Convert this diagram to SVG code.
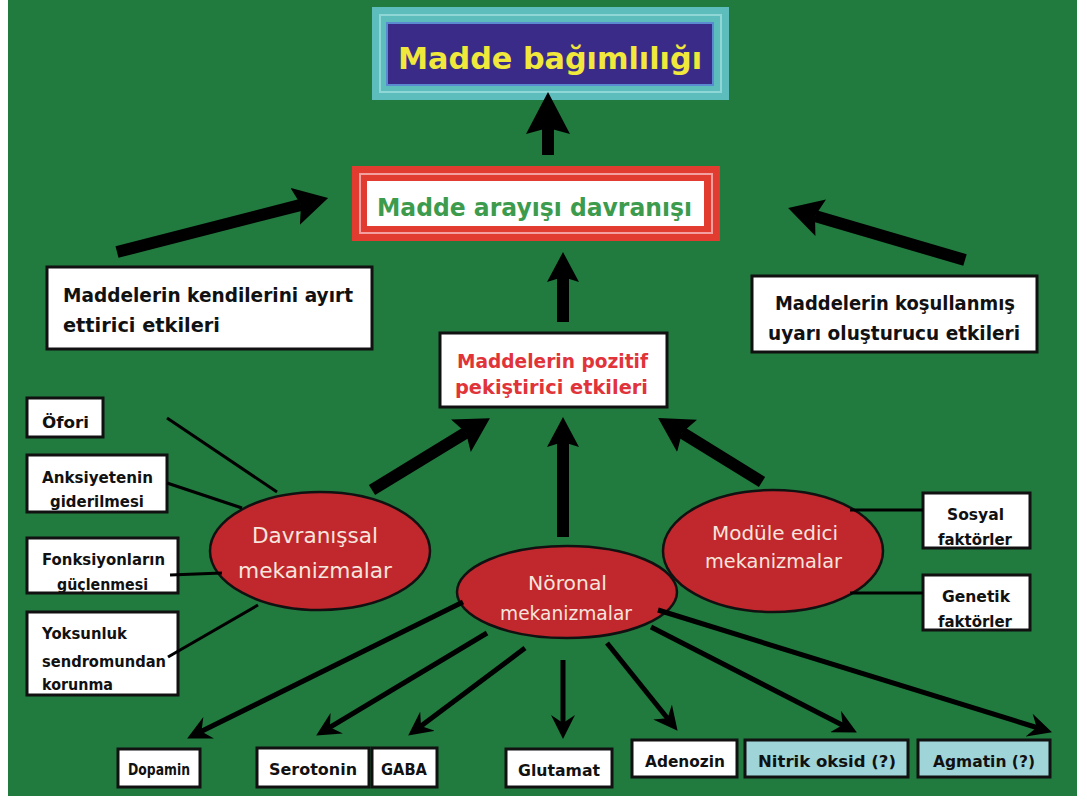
<svg xmlns="http://www.w3.org/2000/svg" width="1087" height="800" viewBox="0 0 1087 800">
<defs>
<style>
.bg{fill:#217a3e}
.box{fill:#ffffff;stroke:#111;stroke-width:3}
.cyan{fill:#9fd5d8;stroke:#111;stroke-width:3}
.ell{fill:#c0282d;stroke:#111;stroke-width:2.5}
.t{font-family:"DejaVu Sans",sans-serif;font-weight:bold;fill:#111}
.et{font-family:"DejaVu Sans",sans-serif;fill:#f7e4dc}
.big{stroke:#000;stroke-width:12;fill:none}
.thin{stroke:#000;stroke-width:5;fill:none}
.line{stroke:#000;stroke-width:3;fill:none}
</style>
<marker id="headL" viewBox="0 0 42 44" markerWidth="42" markerHeight="44" refX="6" refY="22" orient="auto" markerUnits="userSpaceOnUse">
<path d="M0,0 L42,22 L0,44 L6,22 Z" fill="#000"/>
</marker>
<marker id="headM" viewBox="0 0 30 32" markerWidth="30" markerHeight="32" refX="5" refY="16" orient="auto" markerUnits="userSpaceOnUse">
<path d="M0,0 L30,16 L0,32 L5,16 Z" fill="#000"/>
</marker>
<marker id="headD" viewBox="0 0 34 38" markerWidth="34" markerHeight="38" refX="6" refY="19" orient="auto" markerUnits="userSpaceOnUse">
<path d="M0,0 L34,19 L0,38 L6,19 Z" fill="#000"/>
</marker>
<marker id="headS" viewBox="0 0 24 24" markerWidth="24" markerHeight="24" refX="13" refY="12" orient="auto" markerUnits="userSpaceOnUse">
<path d="M0,0 L24,12 L0,24 L8,12 Z" fill="#000"/>
</marker>
</defs>

<rect x="0" y="0" width="1087" height="800" fill="#ffffff"/>
<rect class="bg" x="8" y="0" width="1069" height="796"/>

<g id="madde-bagimliligi">
<rect x="372" y="7" width="357" height="93" fill="#5dbdbd"/>
<rect x="380" y="15" width="341" height="77" fill="none" stroke="#8fd6d6" stroke-width="2"/>
<rect x="387" y="23" width="326" height="62" fill="#3b2b88" stroke="#5a8ad0" stroke-width="2"/>
<text x="398" y="69" font-size="31" textLength="304" lengthAdjust="spacingAndGlyphs" style="font-family:'DejaVu Sans',sans-serif;font-weight:bold;fill:#f0e83a">Madde bağımlılığı</text>
</g>

<g id="madde-arayisi">
<rect x="352" y="166" width="368" height="75" fill="#e23b2f"/>
<rect x="360" y="174" width="352" height="59" fill="none" stroke="#f4a0a0" stroke-width="2"/>
<rect x="366" y="180" width="339" height="47" fill="#ffffff" stroke="#e23b2f" stroke-width="2"/>
<text x="377" y="216" font-size="25" textLength="315" lengthAdjust="spacingAndGlyphs" style="font-family:'DejaVu Sans',sans-serif;font-weight:bold;fill:#3d9b4e">Madde arayışı davranışı</text>
</g>

<g id="ayirt-ettirici">
<rect class="box" x="47" y="267" width="325" height="82"/>
<text class="t" x="63" y="302" font-size="19" textLength="290" lengthAdjust="spacingAndGlyphs">Maddelerin kendilerini ayırt</text>
<text class="t" x="63" y="332" font-size="19" textLength="157" lengthAdjust="spacingAndGlyphs">ettirici etkileri</text>
</g>

<g id="kosullanmis">
<rect class="box" x="752" y="276" width="285" height="76"/>
<text class="t" x="775" y="310" font-size="19" textLength="240" lengthAdjust="spacingAndGlyphs">Maddelerin koşullanmış</text>
<text class="t" x="768" y="340" font-size="19" textLength="252" lengthAdjust="spacingAndGlyphs">uyarı oluşturucu etkileri</text>
</g>

<g id="pozitif">
<rect class="box" x="440" y="333" width="227" height="74"/>
<text x="457" y="368" font-size="19" textLength="191" lengthAdjust="spacingAndGlyphs" style="font-family:'DejaVu Sans',sans-serif;font-weight:bold;fill:#e0343a">Maddelerin pozitif</text>
<text x="455" y="394" font-size="19" textLength="193" lengthAdjust="spacingAndGlyphs" style="font-family:'DejaVu Sans',sans-serif;font-weight:bold;fill:#e0343a">pekiştirici etkileri</text>
</g>

<g id="davranissal">
<ellipse class="ell" cx="320" cy="551" rx="110" ry="59"/>
<text class="et" x="252" y="543" font-size="22" textLength="126" lengthAdjust="spacingAndGlyphs">Davranışsal</text>
<text class="et" x="238" y="578" font-size="22" textLength="154" lengthAdjust="spacingAndGlyphs">mekanizmalar</text>
</g>

<g id="noronal">
<ellipse class="ell" cx="567" cy="592" rx="110" ry="46"/>
<text class="et" x="528" y="590" font-size="19" textLength="79" lengthAdjust="spacingAndGlyphs">Nöronal</text>
<text class="et" x="500" y="620" font-size="19" textLength="132" lengthAdjust="spacingAndGlyphs">mekanizmalar</text>
</g>

<g id="module">
<ellipse class="ell" cx="773" cy="551" rx="110" ry="61"/>
<text class="et" x="712" y="540" font-size="19" textLength="126" lengthAdjust="spacingAndGlyphs">Modüle edici</text>
<text class="et" x="705" y="568" font-size="19" textLength="137" lengthAdjust="spacingAndGlyphs">mekanizmalar</text>
</g>

<g id="ofori">
<rect class="box" x="27" y="398" width="76" height="39"/>
<text class="t" x="42" y="428" font-size="16" textLength="47" lengthAdjust="spacingAndGlyphs">Öfori</text>
</g>
<g id="anksiyete">
<rect class="box" x="27" y="455" width="140" height="57"/>
<text class="t" x="42" y="483" font-size="16" textLength="111" lengthAdjust="spacingAndGlyphs">Anksiyetenin</text>
<text class="t" x="50" y="507" font-size="16" textLength="94" lengthAdjust="spacingAndGlyphs">giderilmesi</text>
</g>
<g id="fonksiyon">
<rect class="box" x="27" y="538" width="151" height="55"/>
<text class="t" x="42" y="565" font-size="16" textLength="123" lengthAdjust="spacingAndGlyphs">Fonksiyonların</text>
<text class="t" x="57" y="590" font-size="16" textLength="91" lengthAdjust="spacingAndGlyphs">güçlenmesi</text>
</g>
<g id="yoksunluk">
<rect class="box" x="27" y="612" width="151" height="83"/>
<text class="t" x="42" y="639" font-size="16" textLength="85" lengthAdjust="spacingAndGlyphs">Yoksunluk</text>
<text class="t" x="42" y="667" font-size="16" textLength="124" lengthAdjust="spacingAndGlyphs">sendromundan</text>
<text class="t" x="42" y="690" font-size="16" textLength="71" lengthAdjust="spacingAndGlyphs">korunma</text>
</g>

<g id="sosyal">
<rect class="box" x="923" y="493" width="107" height="55"/>
<text class="t" x="947" y="520" font-size="16" textLength="57" lengthAdjust="spacingAndGlyphs">Sosyal</text>
<text class="t" x="938" y="545" font-size="16" textLength="74" lengthAdjust="spacingAndGlyphs">faktörler</text>
</g>
<g id="genetik">
<rect class="box" x="923" y="575" width="107" height="55"/>
<text class="t" x="942" y="602" font-size="16" textLength="68" lengthAdjust="spacingAndGlyphs">Genetik</text>
<text class="t" x="938" y="627" font-size="16" textLength="74" lengthAdjust="spacingAndGlyphs">faktörler</text>
</g>

<g id="dopamin">
<rect class="box" x="118" y="749" width="82" height="38"/>
<text class="t" x="159" y="775" font-size="15" text-anchor="middle" textLength="62" lengthAdjust="spacingAndGlyphs">Dopamin</text>
</g>
<g id="serotonin">
<rect class="box" x="257" y="748" width="112" height="39"/>
<text class="t" x="313" y="775" font-size="15" text-anchor="middle" textLength="88" lengthAdjust="spacingAndGlyphs">Serotonin</text>
</g>
<g id="gaba">
<rect class="box" x="372" y="748" width="65" height="39"/>
<text class="t" x="404" y="775" font-size="15" text-anchor="middle" textLength="46" lengthAdjust="spacingAndGlyphs">GABA</text>
</g>
<g id="glutamat">
<rect class="box" x="506" y="749" width="106" height="38"/>
<text class="t" x="559" y="776" font-size="15" text-anchor="middle" textLength="82" lengthAdjust="spacingAndGlyphs">Glutamat</text>
</g>
<g id="adenozin">
<rect class="box" x="632" y="740" width="105" height="37"/>
<text class="t" x="685" y="767" font-size="15" text-anchor="middle" textLength="80" lengthAdjust="spacingAndGlyphs">Adenozin</text>
</g>
<g id="nitrik">
<rect class="cyan" x="745" y="740" width="163" height="37"/>
<text class="t" x="827" y="767" font-size="15" text-anchor="middle" textLength="138" lengthAdjust="spacingAndGlyphs">Nitrik oksid (?)</text>
</g>
<g id="agmatin">
<rect class="cyan" x="918" y="740" width="132" height="37"/>
<text class="t" x="984" y="767" font-size="15" text-anchor="middle" textLength="102" lengthAdjust="spacingAndGlyphs">Agmatin (?)</text>
</g>

<g id="connectors">
<line class="big" x1="548" y1="155" x2="548" y2="128" marker-end="url(#headL)"/>
<line class="big" x1="563" y1="322" x2="563" y2="277" marker-end="url(#headM)"/>
<line class="big" x1="563" y1="537" x2="563" y2="442" marker-end="url(#headM)"/>
<line class="big" x1="372" y1="490" x2="466" y2="432.7" marker-end="url(#headD)"/>
<line class="big" x1="762" y1="482" x2="682" y2="432.7" marker-end="url(#headD)"/>
<line class="big" x1="117" y1="252" x2="301" y2="204.9" marker-end="url(#headD)"/>
<line class="big" x1="965" y1="260" x2="815" y2="216" marker-end="url(#headD)"/>

<line class="line" x1="167" y1="418" x2="277" y2="492"/>
<line class="line" x1="167" y1="483" x2="242" y2="508"/>
<line class="line" x1="170" y1="575" x2="222" y2="573"/>
<line class="line" x1="168" y1="657" x2="258" y2="605"/>
<line class="line" x1="850" y1="510" x2="923" y2="510"/>
<line class="line" x1="850" y1="593" x2="923" y2="593"/>

<line class="thin" x1="463" y1="602" x2="197" y2="733.6" marker-end="url(#headS)"/>
<line class="thin" x1="487" y1="633" x2="325.6" y2="729.9" marker-end="url(#headS)"/>
<line class="thin" x1="525" y1="648" x2="417" y2="729" marker-end="url(#headS)"/>
<line class="thin" x1="563" y1="660" x2="563" y2="728" marker-end="url(#headS)"/>
<line class="thin" x1="607" y1="643" x2="670.7" y2="722.2" marker-end="url(#headS)"/>
<line class="thin" x1="651" y1="627" x2="847.1" y2="727.4" marker-end="url(#headS)"/>
<line class="thin" x1="658" y1="610" x2="1041.5" y2="729" marker-end="url(#headS)"/>
</g>
</svg>
